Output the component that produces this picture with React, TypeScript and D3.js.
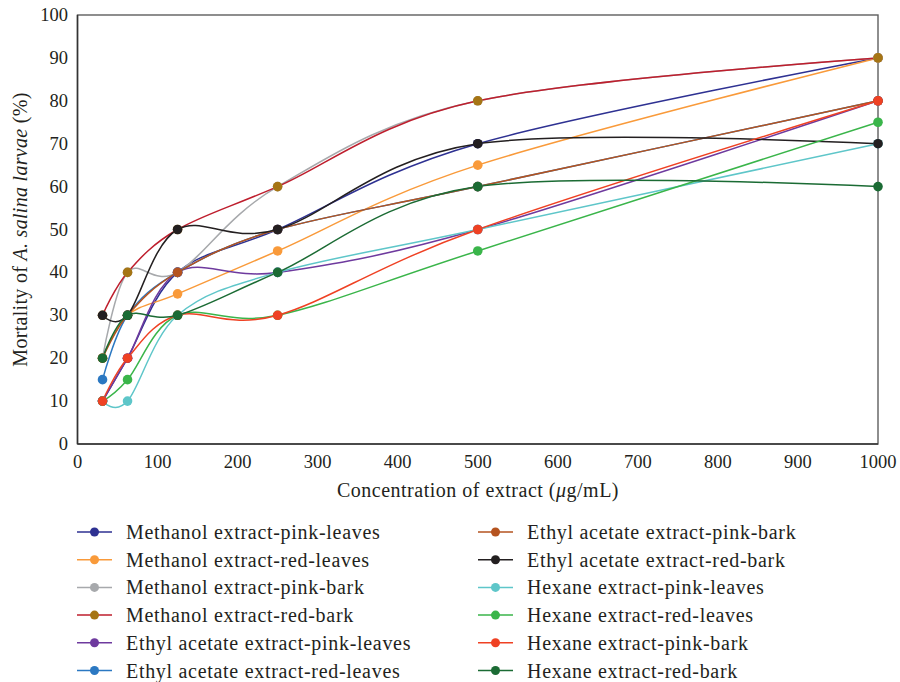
import * as d3 from 'd3';

// concentrations (µg/mL) at which mortality was measured
const concentrations = [31.25, 62.5, 125, 250, 500, 1000];

const seriesNames = [
  'Methanol extract-pink-leaves',
  'Methanol extract-red-leaves',
  'Methanol extract-pink-bark',
  'Methanol extract-red-bark',
  'Ethyl acetate extract-pink-leaves',
  'Ethyl acetate extract-red-leaves',
  'Ethyl acetate extract-pink-bark',
  'Ethyl acetate extract-red-bark',
  'Hexane extract-pink-leaves',
  'Hexane extract-red-leaves',
  'Hexane extract-pink-bark',
  'Hexane extract-red-bark',
];

// mortality (%) per series
const methanolPinkLeaves = [10, 20, 40, 50, 70, 90];
const methanolRedLeaves = [20, 30, 35, 45, 65, 90];
const methanolPinkBark = [20, 40, 40, 60, 80, 90];
const methanolRedBark = [30, 40, 50, 60, 80, 90];
const ethylPinkLeaves = [10, 20, 40, 40, 50, 80];
const ethylRedLeaves = [15, 30, 40, 50, 60, 80];
const ethylPinkBark = [20, 30, 40, 50, 60, 80];
const ethylRedBark = [30, 30, 50, 50, 70, 70];
const hexanePinkLeaves = [10, 10, 30, 40, 50, 70];
const hexaneRedLeaves = [10, 15, 30, 30, 45, 75];
const hexanePinkBark = [10, 20, 30, 30, 50, 80];
const hexaneRedBark = [20, 30, 30, 40, 60, 60];

const seriesValues = [
  methanolPinkLeaves, methanolRedLeaves, methanolPinkBark, methanolRedBark,
  ethylPinkLeaves, ethylRedLeaves, ethylPinkBark, ethylRedBark,
  hexanePinkLeaves, hexaneRedLeaves, hexanePinkBark, hexaneRedBark,
];

const xTicks = [0, 100, 200, 300, 400, 500, 600, 700, 800, 900, 1000];
const yTicks = [0, 10, 20, 30, 40, 50, 60, 70, 80, 90, 100];

const lineColors = [
  '#2e3192', '#f99a3a', '#a7a9ac', '#be1e2d', '#6e3a9e', '#2b78c2',
  '#b5531f', '#231f20', '#5ec6c9', '#3ab54a', '#ef4123', '#1b6b34',
];
const markerColors = [
  '#2e3192', '#f99a3a', '#a7a9ac', '#a67514', '#6e3a9e', '#2b78c2',
  '#b5531f', '#231f20', '#5ec6c9', '#3ab54a', '#ef4123', '#1b6b34',
];
// paint order (black series sits above the cyan one at 1000)
const drawOrder = [0, 1, 2, 3, 4, 5, 6, 8, 7, 9, 10, 11];

const width = 900;
const height = 682;
const font = '"Liberation Serif", "Times New Roman", serif';
const textColor = '#231f20';

export default function App() {
  const x = d3.scaleLinear().domain([0, 1000]).range([77.5, 878]);
  const y = d3.scaleLinear().domain([0, 100]).range([444, 15]);

  const line = d3.line<number>()
    .x((_, i) => x(concentrations[i]))
    .y(d => y(d))
    .curve(d3.curveCardinal.tension(0));

  const legendRowY = (i: number) => 532 + (i % 6) * 27.7;
  const legendColX = (i: number) => (i < 6 ? 77 : 478);

  return (
    <svg width={width} height={height}
      style={{ position: 'absolute', left: 0, top: 0, background: '#fff' }}
      fontFamily={font}>
      {/* plot frame */}
      <rect x={x(0)} y={y(100)} width={x(1000) - x(0)} height={y(0) - y(100)}
        fill="none" stroke="#5e5e5e" strokeWidth={1.4} />
      <line x1={x(0)} x2={x(0)} y1={y(100)} y2={y(0)} stroke="#333" strokeWidth={1.5} />
      <line x1={x(0)} x2={x(1000)} y1={y(0)} y2={y(0)} stroke="#333" strokeWidth={1.5} />

      {/* tick labels */}
      {yTicks.map(t => (
        <text key={'y' + t} x={68} y={y(t)} textAnchor="end" dominantBaseline="central"
          fontSize={18.5} fill={textColor}>{t}</text>
      ))}
      {xTicks.map(t => (
        <text key={'x' + t} x={x(t)} y={462} textAnchor="middle" dominantBaseline="central"
          fontSize={18.5} fill={textColor}>{t}</text>
      ))}

      {/* axis titles */}
      <text x={478} y={490} textAnchor="middle" dominantBaseline="central"
        fontSize={20} letterSpacing={0.5} fill={textColor}>
        Concentration of extract (<tspan fontStyle="italic">μ</tspan>g/mL)
      </text>
      <text transform={`translate(20,${(y(0) + y(100)) / 2}) rotate(-90)`}
        textAnchor="middle" dominantBaseline="central"
        fontSize={20} letterSpacing={0.3} fill={textColor}>
        Mortality of <tspan fontStyle="italic">A. salina larvae</tspan> (%)
      </text>

      {/* series lines */}
      {drawOrder.map(s => (
        <path key={'l' + s} d={line(seriesValues[s]) || ''} fill="none"
          stroke={lineColors[s]} strokeWidth={1.5} />
      ))}
      {/* markers */}
      {drawOrder.map(s => (
        <g key={'m' + s} fill={markerColors[s]}>
          {seriesValues[s].map((v, i) => (
            <circle key={i} cx={x(concentrations[i])} cy={y(v)} r={4.8} />
          ))}
        </g>
      ))}

      {/* legend */}
      {seriesNames.map((name, i) => {
        const lx = legendColX(i);
        const ly = legendRowY(i);
        return (
          <g key={'lg' + i}>
            <line x1={lx} x2={lx + 35} y1={ly} y2={ly} stroke={lineColors[i]} strokeWidth={1.5} />
            <circle cx={lx + 17.5} cy={ly} r={4.5} fill={markerColors[i]} />
            <text x={lx + 49} y={ly} dominantBaseline="central" fontSize={20}
              letterSpacing={0.7} fill={textColor}>{name}</text>
          </g>
        );
      })}
    </svg>
  );
}
